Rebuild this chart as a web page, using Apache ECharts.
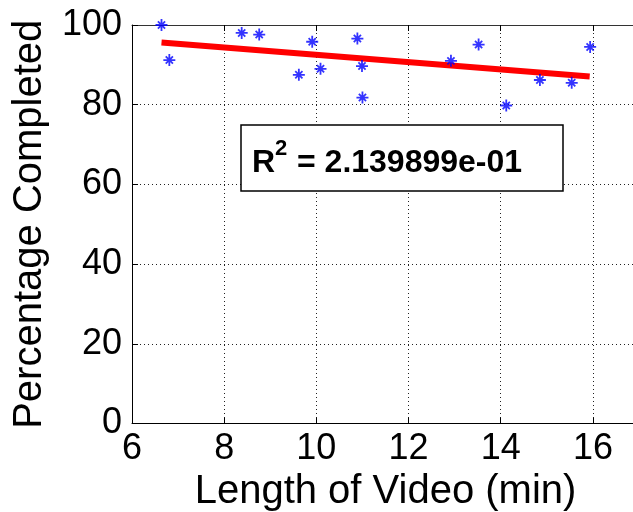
<!DOCTYPE html>
<html>
<head>
<meta charset="utf-8">
<script src="https://cdn.jsdelivr.net/npm/echarts@6/dist/echarts.min.js"></script>
<style>
  html, body { margin: 0; padding: 0; background: #fff; }
  #chart { width: 633px; height: 512px; }
</style>
</head>
<body>
<div id="chart"></div>
<script>
// video length (min) vs percentage completed
const videoLength = [6.64, 6.81, 8.38, 8.76, 9.62, 9.91, 10.09, 10.89, 10.99, 11.00, 12.92, 13.52, 14.12, 14.85, 15.54, 15.94]
const pctCompleted = [100.0, 91.2, 98.0, 97.6, 87.5, 95.8, 89.0, 96.6, 89.7, 81.8, 91.0, 95.1, 79.8, 86.2, 85.5, 94.5]

// least squares fit, end points
const fitX = [6.64, 15.93]
const fitY = [95.6, 87.1]

const rSquared = '2.139899e-01'

const FONT = '"Liberation Sans", Arial, Helvetica, sans-serif'
const GRID_LINE = { show: true, lineStyle: { color: '#222', width: 1, type: [1, 3] } }
const asterisk = 'path://M5 0 L5 10 M0 5 L10 5 M2 2 L8 8 M2 8 L8 2'

const chart = echarts.init(document.getElementById('chart'))

const xBase = {
  type: 'value',
  min: 6,
  max: 17,
  interval: 2
}

chart.setOption({
  animation: false,
  backgroundColor: '#fff',
  // box runs a little past the right edge of the picture
  grid: { left: 132, top: 25, width: 507, height: 398.5, outerBoundsMode: 'none', containLabel: false },
  xAxis: [
    {
      ...xBase,
      position: 'bottom',
      name: 'Length of Video (min)',
      nameLocation: 'middle',
      nameGap: 47,
      nameTextStyle: { fontFamily: FONT, fontSize: 40, color: '#000' },
      axisLine: { show: true, lineStyle: { color: '#000', width: 1 } },
      axisTick: { show: true, inside: true, length: 6, lineStyle: { color: '#000' } },
      axisLabel: { fontFamily: FONT, fontSize: 36, color: '#000', margin: 8, showMaxLabel: false },
      splitLine: GRID_LINE
    },
    {
      ...xBase,
      position: 'top',
      axisLine: { show: true, lineStyle: { color: '#333', width: 1 } },
      axisTick: { show: true, inside: true, length: 6, lineStyle: { color: '#000' } },
      axisLabel: { show: false },
      splitLine: { show: false }
    }
  ],
  yAxis: {
    type: 'value',
    min: 0,
    max: 100,
    interval: 20,
    name: 'Percentage Completed',
    nameLocation: 'middle',
    nameGap: 82,
    nameTextStyle: { fontFamily: FONT, fontSize: 40, color: '#000' },
    axisLine: { show: true, lineStyle: { color: '#000', width: 1 } },
    axisTick: { show: true, inside: true, length: 6, lineStyle: { color: '#000' } },
    axisLabel: { fontFamily: FONT, fontSize: 36, color: '#000', margin: 10 },
    splitLine: GRID_LINE
  },
  series: [
    {
      type: 'line',
      data: fitX.map((x, i) => [x, fitY[i]]),
      showSymbol: false,
      lineStyle: { color: '#ff0000', width: 6, cap: 'butt' },
      z: 3
    },
    {
      type: 'scatter',
      data: videoLength.map((x, i) => [x, pctCompleted[i]]),
      symbol: asterisk,
      symbolSize: 12,
      itemStyle: { color: 'rgba(0,0,0,0)', borderColor: '#0000ff', borderWidth: 1.8 },
      z: 4
    }
  ],
  graphic: [
    {
      type: 'rect',
      shape: { x: 241, y: 125, width: 322, height: 66 },
      style: { fill: '#fff', stroke: '#000', lineWidth: 1.5 },
      z: 100
    },
    {
      type: 'text', x: 252, y: 162.8, z: 101,
      style: { text: 'R', fontFamily: FONT, fontSize: 32, fontWeight: 'bold', fill: '#000', verticalAlign: 'middle' }
    },
    {
      type: 'text', x: 275, y: 148.6, z: 101,
      style: { text: '2', fontFamily: FONT, fontSize: 22, fontWeight: 'bold', fill: '#000', verticalAlign: 'middle' }
    },
    {
      type: 'text', x: 297, y: 162.8, z: 101,
      style: { text: '= ' + rSquared, fontFamily: FONT, fontSize: 32, fontWeight: 'bold', fill: '#000', verticalAlign: 'middle' }
    }
  ]
})
</script>
</body>
</html>
